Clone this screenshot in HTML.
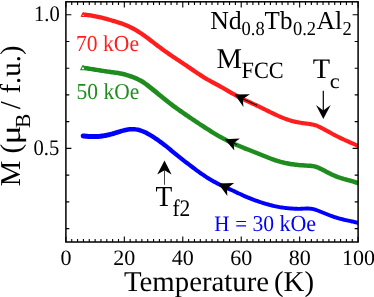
<!DOCTYPE html>
<html><head><meta charset="utf-8"><style>
html,body{margin:0;padding:0;background:#fff;}
svg{display:block;}
text{font-family:"Liberation Serif",serif;fill:#000;text-rendering:geometricPrecision;}
</style></head><body>
<svg width="374" height="297" viewBox="0 0 374 297">
<rect width="374" height="297" fill="#fff"/>
<!-- curves -->
<clipPath id="cp"><rect x="65.9" y="1.8" width="292.2" height="240.2"/></clipPath>
<g clip-path="url(#cp)" stroke="none">
<path d="M84.4,12.5 L85.7,12.6 L87.0,12.8 L88.2,12.9 L89.5,13.1 L90.8,13.3 L92.1,13.5 L93.3,13.7 L94.6,14.0 L95.9,14.2 L97.1,14.5 L98.4,14.8 L99.7,15.0 L100.9,15.3 L102.2,15.6 L103.5,16.0 L104.7,16.3 L106.0,16.6 L107.3,17.0 L108.5,17.3 L109.8,17.7 L111.0,18.0 L112.3,18.4 L113.6,18.8 L114.8,19.1 L116.1,19.5 L117.3,19.9 L118.6,20.3 L119.9,20.7 L121.1,21.1 L122.4,21.6 L123.7,22.0 L125.0,22.5 L126.2,23.0 L127.5,23.5 L128.8,24.1 L130.1,24.7 L131.4,25.3 L132.7,25.9 L134.0,26.6 L135.2,27.3 L136.5,28.0 L137.8,28.8 L139.1,29.6 L140.4,30.4 L141.6,31.2 L142.9,32.1 L144.2,32.9 L145.4,33.8 L146.7,34.7 L148.0,35.7 L149.2,36.6 L150.5,37.5 L151.8,38.5 L153.0,39.5 L154.3,40.4 L155.5,41.4 L156.8,42.4 L158.0,43.3 L159.3,44.3 L160.5,45.2 L161.7,46.1 L163.0,47.1 L164.2,48.0 L165.5,48.9 L166.7,49.7 L167.9,50.6 L169.2,51.5 L170.4,52.3 L171.7,53.2 L172.9,54.0 L174.2,54.9 L175.4,55.7 L176.6,56.6 L177.9,57.4 L179.1,58.2 L180.4,59.1 L181.6,59.9 L182.9,60.7 L184.1,61.5 L185.4,62.4 L186.6,63.2 L187.9,64.1 L189.2,64.9 L190.4,65.7 L191.7,66.6 L192.9,67.5 L194.2,68.3 L195.4,69.2 L196.7,70.0 L197.9,70.9 L199.1,71.7 L200.4,72.5 L201.6,73.3 L202.9,74.1 L204.1,74.9 L205.3,75.7 L206.6,76.5 L207.8,77.2 L209.0,77.9 L210.2,78.6 L211.5,79.3 L212.7,79.9 L214.0,80.6 L215.2,81.3 L216.5,81.9 L217.7,82.6 L219.0,83.3 L220.2,84.0 L221.5,84.7 L222.8,85.4 L224.0,86.1 L225.3,86.9 L226.5,87.6 L227.8,88.3 L229.0,89.1 L230.3,89.8 L231.5,90.5 L232.8,91.2 L234.0,91.9 L235.2,92.6 L236.5,93.3 L237.7,94.0 L238.9,94.6 L240.2,95.3 L241.4,95.9 L242.6,96.5 L243.9,97.2 L245.1,97.8 L246.4,98.4 L247.6,99.0 L248.8,99.5 L250.1,100.1 L251.3,100.7 L252.6,101.3 L253.8,101.9 L255.1,102.5 L256.3,103.0 L257.6,103.6 L258.8,104.2 L260.1,104.8 L261.4,105.4 L262.6,106.0 L263.9,106.7 L265.1,107.3 L266.4,107.9 L267.6,108.5 L268.9,109.1 L270.1,109.7 L271.4,110.4 L272.6,111.0 L273.8,111.6 L275.1,112.1 L276.3,112.7 L277.6,113.3 L278.8,113.9 L280.0,114.4 L281.3,114.9 L282.5,115.4 L283.7,115.9 L284.9,116.4 L286.2,116.9 L287.4,117.3 L288.6,117.8 L289.8,118.2 L291.1,118.6 L292.3,118.9 L293.5,119.2 L294.7,119.6 L295.9,119.8 L297.1,120.1 L298.3,120.3 L299.5,120.6 L300.8,120.8 L302.0,120.9 L303.2,121.1 L304.5,121.3 L305.7,121.4 L307.0,121.6 L308.2,121.8 L309.5,121.9 L310.8,122.1 L312.1,122.4 L313.4,122.6 L314.7,122.9 L316.1,123.3 L317.4,123.8 L318.8,124.4 L320.1,125.0 L321.4,125.6 L322.6,126.2 L323.9,126.9 L325.2,127.6 L326.4,128.3 L327.7,128.9 L328.9,129.6 L330.2,130.3 L331.4,131.0 L332.7,131.7 L333.9,132.4 L335.2,133.0 L336.4,133.7 L337.6,134.3 L338.9,134.9 L340.1,135.6 L341.3,136.1 L342.6,136.7 L343.8,137.3 L345.0,137.9 L346.3,138.4 L347.5,139.0 L348.8,139.5 L350.0,140.1 L351.3,140.7 L352.5,141.2 L353.8,141.8 L355.0,142.3 L356.3,142.9 L357.6,143.5 L358.8,144.1 L359.4,144.3 L357.6,148.1 L357.1,147.8 L355.8,147.2 L354.6,146.6 L353.4,146.1 L352.1,145.5 L350.9,145.0 L349.6,144.4 L348.4,143.9 L347.1,143.3 L345.9,142.7 L344.6,142.2 L343.4,141.6 L342.1,141.0 L340.8,140.4 L339.6,139.9 L338.3,139.2 L337.0,138.6 L335.8,138.0 L334.5,137.3 L333.2,136.7 L332.0,136.0 L330.7,135.3 L329.5,134.6 L328.2,133.9 L327.0,133.2 L325.7,132.5 L324.5,131.9 L323.2,131.2 L322.0,130.5 L320.8,129.9 L319.5,129.3 L318.3,128.7 L317.1,128.1 L316.0,127.6 L314.8,127.2 L313.7,126.9 L312.5,126.6 L311.3,126.4 L310.1,126.2 L308.9,126.0 L307.7,125.8 L306.4,125.7 L305.2,125.5 L303.9,125.3 L302.7,125.2 L301.4,125.0 L300.1,124.8 L298.9,124.6 L297.6,124.4 L296.3,124.1 L295.0,123.9 L293.7,123.6 L292.4,123.2 L291.1,122.9 L289.8,122.5 L288.6,122.1 L287.3,121.7 L286.0,121.2 L284.7,120.8 L283.5,120.3 L282.2,119.8 L280.9,119.3 L279.6,118.7 L278.4,118.2 L277.1,117.6 L275.8,117.1 L274.6,116.5 L273.3,115.9 L272.1,115.3 L270.8,114.7 L269.5,114.1 L268.3,113.5 L267.0,112.9 L265.8,112.2 L264.5,111.6 L263.3,111.0 L262.0,110.4 L260.8,109.8 L259.5,109.2 L258.3,108.6 L257.1,108.0 L255.8,107.4 L254.6,106.8 L253.3,106.3 L252.1,105.7 L250.8,105.1 L249.6,104.5 L248.3,103.9 L247.1,103.3 L245.8,102.8 L244.5,102.2 L243.3,101.6 L242.0,100.9 L240.8,100.3 L239.5,99.7 L238.2,99.0 L237.0,98.4 L235.7,97.7 L234.4,97.0 L233.2,96.3 L231.9,95.6 L230.6,94.9 L229.4,94.2 L228.1,93.4 L226.9,92.7 L225.6,92.0 L224.4,91.3 L223.1,90.5 L221.9,89.8 L220.6,89.1 L219.4,88.4 L218.2,87.7 L216.9,87.1 L215.7,86.4 L214.4,85.7 L213.2,85.0 L211.9,84.4 L210.7,83.7 L209.4,83.0 L208.2,82.3 L206.9,81.6 L205.6,80.9 L204.3,80.1 L203.1,79.4 L201.8,78.6 L200.5,77.8 L199.3,76.9 L198.0,76.1 L196.8,75.3 L195.5,74.4 L194.2,73.6 L193.0,72.7 L191.7,71.9 L190.5,71.0 L189.2,70.2 L188.0,69.3 L186.7,68.5 L185.5,67.6 L184.3,66.8 L183.0,66.0 L181.8,65.1 L180.5,64.3 L179.3,63.5 L178.0,62.6 L176.8,61.8 L175.5,61.0 L174.3,60.1 L173.0,59.3 L171.7,58.5 L170.5,57.6 L169.2,56.7 L168.0,55.9 L166.7,55.0 L165.5,54.1 L164.2,53.2 L162.9,52.3 L161.7,51.4 L160.4,50.5 L159.2,49.6 L157.9,48.6 L156.6,47.7 L155.4,46.7 L154.1,45.8 L152.9,44.8 L151.6,43.8 L150.4,42.9 L149.1,41.9 L147.9,41.0 L146.7,40.0 L145.4,39.1 L144.2,38.2 L143.0,37.3 L141.7,36.5 L140.5,35.6 L139.3,34.8 L138.0,34.0 L136.8,33.2 L135.6,32.5 L134.4,31.7 L133.2,31.0 L131.9,30.4 L130.7,29.8 L129.5,29.2 L128.3,28.6 L127.1,28.0 L125.9,27.5 L124.7,27.0 L123.4,26.5 L122.2,26.1 L121.0,25.6 L119.8,25.2 L118.5,24.8 L117.3,24.4 L116.1,24.0 L114.8,23.6 L113.6,23.2 L112.3,22.9 L111.1,22.5 L109.9,22.1 L108.6,21.8 L107.4,21.4 L106.1,21.1 L104.9,20.8 L103.7,20.4 L102.4,20.1 L101.2,19.8 L100.0,19.5 L98.7,19.2 L97.5,19.0 L96.3,18.7 L95.0,18.4 L93.8,18.2 L92.6,18.0 L91.3,17.8 L90.1,17.5 L88.9,17.4 L87.7,17.2 L86.4,17.0 L85.2,16.9 L84.0,16.7 L83.2,16.5 L82.5,16.0 L82.1,15.2 L82.1,14.4 L82.3,13.6 L82.8,12.9 L83.6,12.5Z" fill="#ff1e1e"/>
<path d="M84.5,65.7 L85.8,65.9 L87.1,66.1 L88.3,66.3 L89.6,66.5 L90.8,66.7 L92.1,66.9 L93.3,67.1 L94.6,67.3 L95.8,67.5 L97.1,67.7 L98.3,67.9 L99.5,68.1 L100.8,68.3 L102.0,68.5 L103.3,68.7 L104.5,68.9 L105.8,69.1 L107.0,69.3 L108.3,69.4 L109.5,69.6 L110.8,69.8 L112.0,69.9 L113.2,70.1 L114.5,70.3 L115.8,70.4 L117.0,70.6 L118.3,70.8 L119.6,71.0 L120.9,71.3 L122.2,71.5 L123.5,71.8 L124.8,72.1 L126.1,72.5 L127.4,72.9 L128.6,73.3 L129.9,73.7 L131.2,74.1 L132.5,74.6 L133.7,75.0 L135.0,75.5 L136.3,76.0 L137.6,76.6 L138.9,77.2 L140.3,77.9 L141.6,78.6 L142.9,79.3 L144.2,80.1 L145.5,81.0 L146.8,81.9 L148.1,82.8 L149.4,83.8 L150.6,84.7 L151.9,85.7 L153.2,86.8 L154.4,87.8 L155.7,88.8 L156.9,89.8 L158.2,90.8 L159.4,91.9 L160.7,92.9 L161.9,93.9 L163.2,95.0 L164.4,96.0 L165.7,97.0 L166.9,98.0 L168.2,99.0 L169.4,100.0 L170.6,100.9 L171.9,101.9 L173.1,102.8 L174.3,103.8 L175.6,104.7 L176.8,105.6 L178.0,106.5 L179.3,107.4 L180.5,108.2 L181.8,109.1 L183.0,110.0 L184.3,110.9 L185.5,111.7 L186.7,112.6 L188.0,113.4 L189.2,114.3 L190.5,115.2 L191.7,116.0 L193.0,116.9 L194.2,117.7 L195.5,118.5 L196.7,119.4 L198.0,120.2 L199.2,121.0 L200.4,121.9 L201.7,122.7 L202.9,123.5 L204.2,124.3 L205.4,125.1 L206.7,125.9 L207.9,126.8 L209.1,127.5 L210.4,128.3 L211.6,129.1 L212.9,129.9 L214.1,130.7 L215.3,131.4 L216.6,132.2 L217.8,132.9 L219.1,133.7 L220.3,134.4 L221.5,135.1 L222.8,135.8 L224.0,136.4 L225.2,137.1 L226.5,137.7 L227.7,138.4 L228.9,139.0 L230.2,139.6 L231.4,140.2 L232.6,140.8 L233.9,141.3 L235.1,141.9 L236.3,142.4 L237.6,143.0 L238.8,143.5 L240.1,144.0 L241.3,144.5 L242.5,145.1 L243.8,145.6 L245.0,146.1 L246.3,146.6 L247.5,147.0 L248.8,147.5 L250.0,148.0 L251.3,148.5 L252.5,149.0 L253.7,149.5 L255.0,150.0 L256.3,150.4 L257.5,150.9 L258.8,151.4 L260.0,151.9 L261.3,152.4 L262.5,152.9 L263.8,153.4 L265.0,153.9 L266.3,154.4 L267.5,154.9 L268.8,155.4 L270.0,155.9 L271.2,156.4 L272.5,156.9 L273.7,157.3 L274.9,157.8 L276.2,158.2 L277.4,158.6 L278.6,159.0 L279.8,159.3 L281.0,159.7 L282.3,160.0 L283.5,160.3 L284.7,160.6 L285.9,160.9 L287.1,161.1 L288.4,161.3 L289.6,161.6 L290.8,161.8 L292.0,162.0 L293.3,162.1 L294.5,162.3 L295.7,162.5 L296.9,162.6 L298.2,162.7 L299.4,162.9 L300.6,163.0 L301.9,163.1 L303.1,163.1 L304.3,163.2 L305.6,163.3 L306.8,163.4 L308.1,163.4 L309.4,163.5 L310.7,163.6 L312.0,163.7 L313.3,163.9 L314.7,164.2 L316.1,164.5 L317.5,165.0 L318.8,165.5 L320.1,166.1 L321.4,166.7 L322.7,167.3 L324.0,168.0 L325.2,168.6 L326.5,169.3 L327.7,169.9 L329.0,170.6 L330.2,171.2 L331.4,171.8 L332.7,172.4 L333.9,173.0 L335.1,173.5 L336.3,174.0 L337.5,174.5 L338.7,175.0 L339.9,175.4 L341.1,175.8 L342.4,176.2 L343.6,176.5 L344.8,176.9 L346.0,177.2 L347.3,177.6 L348.5,177.9 L349.8,178.2 L351.0,178.6 L352.3,178.9 L353.6,179.3 L354.9,179.7 L356.1,180.1 L357.4,180.5 L358.7,181.0 L359.3,181.2 L357.7,185.4 L357.2,185.2 L356.0,184.8 L354.8,184.4 L353.5,184.0 L352.3,183.6 L351.1,183.2 L349.9,182.9 L348.6,182.6 L347.4,182.2 L346.1,181.9 L344.9,181.5 L343.6,181.2 L342.3,180.8 L341.0,180.5 L339.8,180.0 L338.5,179.6 L337.2,179.2 L335.9,178.7 L334.6,178.2 L333.3,177.6 L332.0,177.0 L330.7,176.4 L329.5,175.8 L328.2,175.2 L326.9,174.5 L325.7,173.9 L324.4,173.3 L323.2,172.6 L321.9,172.0 L320.7,171.3 L319.5,170.7 L318.3,170.2 L317.1,169.6 L315.9,169.2 L314.8,168.8 L313.7,168.6 L312.6,168.3 L311.4,168.2 L310.2,168.1 L309.0,168.0 L307.8,167.9 L306.6,167.8 L305.3,167.8 L304.1,167.7 L302.8,167.6 L301.5,167.5 L300.3,167.4 L299.0,167.3 L297.7,167.2 L296.5,167.0 L295.2,166.9 L293.9,166.7 L292.6,166.5 L291.4,166.4 L290.1,166.2 L288.8,165.9 L287.5,165.7 L286.3,165.5 L285.0,165.2 L283.7,164.9 L282.4,164.6 L281.1,164.3 L279.9,164.0 L278.6,163.6 L277.3,163.2 L276.0,162.8 L274.7,162.4 L273.5,161.9 L272.2,161.5 L270.9,161.0 L269.7,160.5 L268.4,160.1 L267.1,159.6 L265.9,159.1 L264.6,158.6 L263.4,158.1 L262.1,157.5 L260.9,157.0 L259.6,156.5 L258.4,156.0 L257.1,155.5 L255.9,155.1 L254.6,154.6 L253.4,154.1 L252.2,153.6 L250.9,153.1 L249.6,152.6 L248.4,152.1 L247.1,151.6 L245.9,151.2 L244.6,150.7 L243.4,150.2 L242.1,149.6 L240.9,149.1 L239.6,148.6 L238.3,148.1 L237.1,147.6 L235.8,147.0 L234.6,146.5 L233.3,145.9 L232.0,145.3 L230.8,144.8 L229.5,144.2 L228.2,143.5 L227.0,142.9 L225.7,142.3 L224.4,141.6 L223.2,141.0 L221.9,140.3 L220.6,139.6 L219.4,138.9 L218.1,138.2 L216.8,137.5 L215.6,136.7 L214.3,136.0 L213.1,135.2 L211.8,134.5 L210.5,133.7 L209.3,132.9 L208.0,132.1 L206.8,131.3 L205.5,130.5 L204.2,129.7 L203.0,128.9 L201.7,128.1 L200.5,127.3 L199.2,126.4 L198.0,125.6 L196.7,124.8 L195.4,124.0 L194.2,123.1 L192.9,122.3 L191.7,121.5 L190.4,120.6 L189.2,119.8 L187.9,118.9 L186.7,118.1 L185.4,117.2 L184.2,116.4 L182.9,115.5 L181.6,114.6 L180.4,113.8 L179.1,112.9 L177.9,112.0 L176.6,111.1 L175.4,110.2 L174.1,109.3 L172.8,108.4 L171.6,107.5 L170.3,106.5 L169.0,105.6 L167.8,104.6 L166.5,103.6 L165.2,102.6 L164.0,101.6 L162.7,100.6 L161.5,99.6 L160.2,98.6 L159.0,97.6 L157.7,96.5 L156.5,95.5 L155.2,94.5 L154.0,93.4 L152.7,92.4 L151.5,91.4 L150.2,90.4 L149.0,89.4 L147.8,88.4 L146.5,87.4 L145.3,86.5 L144.1,85.6 L142.9,84.8 L141.7,84.0 L140.5,83.2 L139.3,82.5 L138.1,81.9 L137.0,81.3 L135.8,80.7 L134.6,80.2 L133.4,79.7 L132.2,79.3 L130.9,78.8 L129.7,78.4 L128.5,78.0 L127.3,77.6 L126.0,77.2 L124.8,76.8 L123.6,76.5 L122.4,76.2 L121.2,75.9 L120.0,75.7 L118.8,75.4 L117.6,75.2 L116.4,75.0 L115.1,74.9 L113.9,74.7 L112.7,74.5 L111.4,74.4 L110.1,74.2 L108.9,74.0 L107.6,73.8 L106.4,73.7 L105.1,73.5 L103.9,73.3 L102.6,73.1 L101.4,72.9 L100.1,72.7 L98.9,72.5 L97.6,72.3 L96.3,72.1 L95.1,71.9 L93.8,71.7 L92.6,71.5 L91.3,71.3 L90.1,71.1 L88.8,70.9 L87.6,70.7 L86.3,70.5 L85.1,70.3 L83.9,70.1 L83.0,69.8 L82.4,69.2 L82.1,68.4 L82.0,67.6 L82.3,66.7 L82.9,66.1 L83.7,65.8Z" fill="#1f8c1f"/>
<path d="M83.5,133.4 L84.8,133.6 L86.0,133.7 L87.2,133.8 L88.4,133.9 L89.6,134.0 L90.8,134.1 L92.0,134.1 L93.2,134.1 L94.4,134.1 L95.6,134.1 L96.8,134.0 L98.0,134.0 L99.2,133.9 L100.4,133.7 L101.6,133.6 L102.8,133.5 L104.0,133.3 L105.2,133.1 L106.5,132.8 L107.7,132.6 L108.9,132.3 L110.1,132.0 L111.3,131.7 L112.5,131.3 L113.8,131.0 L115.0,130.6 L116.2,130.2 L117.5,129.8 L118.8,129.4 L120.1,129.1 L121.3,128.7 L122.6,128.4 L123.9,128.0 L125.2,127.7 L126.5,127.5 L127.9,127.3 L129.2,127.1 L130.5,127.0 L131.9,126.9 L133.3,126.9 L134.6,127.0 L136.0,127.2 L137.3,127.4 L138.7,127.6 L140.1,128.0 L141.4,128.4 L142.7,128.9 L144.1,129.4 L145.4,130.0 L146.7,130.6 L148.0,131.3 L149.3,132.0 L150.6,132.8 L151.8,133.5 L153.1,134.3 L154.4,135.1 L155.7,135.9 L156.9,136.7 L158.2,137.6 L159.5,138.5 L160.7,139.4 L162.0,140.3 L163.3,141.3 L164.5,142.2 L165.8,143.2 L167.1,144.2 L168.3,145.2 L169.6,146.3 L170.8,147.3 L172.1,148.3 L173.3,149.4 L174.6,150.4 L175.8,151.5 L177.1,152.5 L178.3,153.5 L179.5,154.5 L180.8,155.5 L182.0,156.5 L183.3,157.5 L184.5,158.4 L185.7,159.4 L187.0,160.4 L188.2,161.3 L189.5,162.3 L190.7,163.2 L192.0,164.2 L193.2,165.1 L194.4,166.1 L195.7,167.0 L196.9,167.9 L198.2,168.9 L199.4,169.8 L200.6,170.7 L201.9,171.6 L203.1,172.4 L204.4,173.3 L205.6,174.1 L206.8,174.9 L208.0,175.7 L209.3,176.5 L210.5,177.2 L211.7,178.0 L213.0,178.7 L214.2,179.4 L215.4,180.1 L216.7,180.8 L217.9,181.4 L219.1,182.0 L220.3,182.7 L221.6,183.3 L222.8,183.8 L224.0,184.4 L225.3,185.0 L226.5,185.6 L227.8,186.1 L229.0,186.7 L230.3,187.3 L231.5,187.8 L232.8,188.4 L234.0,189.0 L235.3,189.6 L236.5,190.2 L237.8,190.8 L239.0,191.4 L240.3,191.9 L241.5,192.5 L242.8,193.1 L244.0,193.7 L245.3,194.2 L246.5,194.8 L247.7,195.3 L249.0,195.8 L250.2,196.3 L251.4,196.8 L252.7,197.3 L253.9,197.8 L255.1,198.2 L256.4,198.7 L257.6,199.1 L258.8,199.5 L260.1,200.0 L261.3,200.4 L262.5,200.8 L263.8,201.2 L265.0,201.5 L266.3,201.9 L267.5,202.3 L268.7,202.6 L270.0,203.0 L271.2,203.3 L272.4,203.6 L273.7,203.9 L274.9,204.2 L276.1,204.5 L277.3,204.7 L278.6,205.0 L279.8,205.2 L281.0,205.4 L282.2,205.6 L283.5,205.7 L284.7,205.9 L285.9,206.0 L287.2,206.2 L288.4,206.3 L289.6,206.4 L290.9,206.5 L292.1,206.6 L293.3,206.7 L294.5,206.8 L295.8,206.8 L297.0,206.8 L298.2,206.9 L299.4,206.9 L300.6,206.8 L301.9,206.8 L303.1,206.7 L304.4,206.7 L305.6,206.6 L306.9,206.6 L308.2,206.6 L309.6,206.7 L310.9,206.8 L312.3,207.0 L313.6,207.2 L315.0,207.6 L316.3,208.0 L317.6,208.4 L318.9,208.9 L320.2,209.4 L321.4,209.9 L322.7,210.4 L323.9,210.9 L325.2,211.4 L326.4,211.9 L327.7,212.4 L328.9,212.9 L330.2,213.4 L331.4,213.9 L332.6,214.3 L333.8,214.8 L335.1,215.2 L336.3,215.6 L337.5,216.0 L338.7,216.3 L340.0,216.7 L341.2,217.0 L342.4,217.3 L343.7,217.6 L344.9,217.9 L346.1,218.2 L347.4,218.5 L348.6,218.8 L349.9,219.0 L351.1,219.3 L352.4,219.6 L353.6,219.8 L354.9,220.1 L356.1,220.4 L357.4,220.6 L358.6,220.9 L358.9,221.0 L358.1,224.8 L357.8,224.7 L356.5,224.4 L355.3,224.2 L354.0,223.9 L352.8,223.6 L351.5,223.4 L350.3,223.1 L349.0,222.8 L347.8,222.6 L346.5,222.3 L345.3,222.0 L344.0,221.7 L342.7,221.4 L341.5,221.1 L340.2,220.8 L338.9,220.4 L337.7,220.1 L336.4,219.7 L335.1,219.3 L333.8,218.9 L332.6,218.4 L331.3,218.0 L330.0,217.5 L328.7,217.0 L327.5,216.5 L326.2,216.0 L325.0,215.5 L323.7,215.0 L322.5,214.5 L321.2,214.0 L320.0,213.5 L318.7,213.0 L317.5,212.5 L316.3,212.1 L315.1,211.7 L313.9,211.3 L312.8,211.0 L311.6,210.8 L310.5,210.7 L309.3,210.6 L308.2,210.5 L307.0,210.5 L305.8,210.5 L304.5,210.6 L303.3,210.6 L302.0,210.7 L300.8,210.7 L299.5,210.8 L298.2,210.8 L296.9,210.7 L295.6,210.7 L294.4,210.7 L293.1,210.6 L291.8,210.5 L290.5,210.4 L289.3,210.3 L288.0,210.2 L286.7,210.1 L285.5,209.9 L284.2,209.8 L282.9,209.6 L281.7,209.4 L280.4,209.2 L279.1,209.0 L277.8,208.8 L276.6,208.6 L275.3,208.3 L274.0,208.0 L272.7,207.7 L271.5,207.4 L270.2,207.1 L268.9,206.7 L267.7,206.4 L266.4,206.0 L265.1,205.7 L263.9,205.3 L262.6,204.9 L261.4,204.5 L260.1,204.1 L258.8,203.7 L257.6,203.3 L256.3,202.8 L255.0,202.4 L253.8,201.9 L252.5,201.5 L251.2,201.0 L250.0,200.5 L248.7,200.0 L247.4,199.5 L246.2,199.0 L244.9,198.4 L243.6,197.9 L242.4,197.3 L241.1,196.7 L239.9,196.1 L238.6,195.6 L237.4,195.0 L236.1,194.4 L234.9,193.8 L233.6,193.2 L232.4,192.6 L231.1,192.1 L229.9,191.5 L228.6,190.9 L227.4,190.4 L226.1,189.8 L224.9,189.2 L223.6,188.7 L222.4,188.1 L221.1,187.5 L219.8,186.9 L218.6,186.3 L217.3,185.7 L216.0,185.0 L214.7,184.3 L213.5,183.7 L212.2,183.0 L210.9,182.2 L209.7,181.5 L208.4,180.7 L207.1,179.9 L205.9,179.2 L204.6,178.3 L203.3,177.5 L202.0,176.6 L200.8,175.8 L199.5,174.9 L198.3,174.0 L197.0,173.1 L195.7,172.2 L194.5,171.3 L193.2,170.3 L192.0,169.4 L190.7,168.5 L189.4,167.5 L188.2,166.6 L186.9,165.6 L185.7,164.7 L184.4,163.7 L183.2,162.8 L181.9,161.8 L180.6,160.8 L179.4,159.8 L178.1,158.8 L176.9,157.8 L175.6,156.8 L174.3,155.8 L173.1,154.8 L171.8,153.7 L170.6,152.7 L169.3,151.7 L168.1,150.6 L166.8,149.6 L165.6,148.6 L164.3,147.6 L163.1,146.7 L161.9,145.7 L160.6,144.8 L159.4,143.9 L158.2,143.0 L156.9,142.1 L155.7,141.2 L154.5,140.4 L153.2,139.6 L152.0,138.8 L150.8,138.1 L149.6,137.3 L148.3,136.6 L147.1,135.9 L145.9,135.3 L144.7,134.6 L143.5,134.1 L142.3,133.5 L141.2,133.1 L140.0,132.7 L138.8,132.3 L137.7,132.0 L136.6,131.8 L135.4,131.6 L134.3,131.5 L133.1,131.5 L132.0,131.5 L130.9,131.5 L129.7,131.6 L128.5,131.8 L127.4,132.0 L126.2,132.2 L125.0,132.5 L123.8,132.8 L122.6,133.1 L121.3,133.5 L120.1,133.9 L118.9,134.2 L117.7,134.7 L116.4,135.1 L115.1,135.5 L113.9,135.9 L112.6,136.3 L111.3,136.6 L110.0,137.0 L108.7,137.3 L107.4,137.6 L106.2,137.9 L104.9,138.1 L103.6,138.3 L102.3,138.5 L101.0,138.7 L99.7,138.8 L98.4,138.9 L97.1,139.0 L95.8,139.1 L94.5,139.1 L93.2,139.1 L91.9,139.1 L90.6,139.1 L89.3,139.0 L88.0,138.9 L86.7,138.8 L85.4,138.7 L84.1,138.5 L82.9,138.4 L81.9,138.1 L81.2,137.4 L80.8,136.5 L80.7,135.6 L81.0,134.6 L81.7,133.9 L82.6,133.5Z" fill="#0000ff"/>
</g>
<!-- start markers -->
<path d="M83.2,12.8 L81.3,16.3 L85.1,16.3 Z" fill="#fff" stroke="#ff1e1e" stroke-width="1.3" stroke-linejoin="round"/>
<path d="M83,65.4 L80.7,69.7 L85.3,69.7 Z" fill="#fff" stroke="#1f8c1f" stroke-width="1.1" stroke-linejoin="round"/>
<!-- frame -->
<rect x="65.9" y="1.8" width="292.20000000000005" height="240.2" fill="none" stroke="#000" stroke-width="1.5"/>
<path d="M65.90,242.0v-5.6M65.90,1.8v5.6M71.74,242.0v-3.1M71.74,1.8v3.1M77.59,242.0v-3.1M77.59,1.8v3.1M83.43,242.0v-3.1M83.43,1.8v3.1M89.28,242.0v-3.1M89.28,1.8v3.1M95.12,242.0v-3.1M95.12,1.8v3.1M100.96,242.0v-3.1M100.96,1.8v3.1M106.81,242.0v-3.1M106.81,1.8v3.1M112.65,242.0v-3.1M112.65,1.8v3.1M118.50,242.0v-3.1M118.50,1.8v3.1M124.34,242.0v-5.6M124.34,1.8v5.6M130.18,242.0v-3.1M130.18,1.8v3.1M136.03,242.0v-3.1M136.03,1.8v3.1M141.87,242.0v-3.1M141.87,1.8v3.1M147.72,242.0v-3.1M147.72,1.8v3.1M153.56,242.0v-3.1M153.56,1.8v3.1M159.40,242.0v-3.1M159.40,1.8v3.1M165.25,242.0v-3.1M165.25,1.8v3.1M171.09,242.0v-3.1M171.09,1.8v3.1M176.94,242.0v-3.1M176.94,1.8v3.1M182.78,242.0v-5.6M182.78,1.8v5.6M188.62,242.0v-3.1M188.62,1.8v3.1M194.47,242.0v-3.1M194.47,1.8v3.1M200.31,242.0v-3.1M200.31,1.8v3.1M206.16,242.0v-3.1M206.16,1.8v3.1M212.00,242.0v-3.1M212.00,1.8v3.1M217.84,242.0v-3.1M217.84,1.8v3.1M223.69,242.0v-3.1M223.69,1.8v3.1M229.53,242.0v-3.1M229.53,1.8v3.1M235.38,242.0v-3.1M235.38,1.8v3.1M241.22,242.0v-5.6M241.22,1.8v5.6M247.06,242.0v-3.1M247.06,1.8v3.1M252.91,242.0v-3.1M252.91,1.8v3.1M258.75,242.0v-3.1M258.75,1.8v3.1M264.60,242.0v-3.1M264.60,1.8v3.1M270.44,242.0v-3.1M270.44,1.8v3.1M276.28,242.0v-3.1M276.28,1.8v3.1M282.13,242.0v-3.1M282.13,1.8v3.1M287.97,242.0v-3.1M287.97,1.8v3.1M293.82,242.0v-3.1M293.82,1.8v3.1M299.66,242.0v-5.6M299.66,1.8v5.6M305.50,242.0v-3.1M305.50,1.8v3.1M311.35,242.0v-3.1M311.35,1.8v3.1M317.19,242.0v-3.1M317.19,1.8v3.1M323.04,242.0v-3.1M323.04,1.8v3.1M328.88,242.0v-3.1M328.88,1.8v3.1M334.72,242.0v-3.1M334.72,1.8v3.1M340.57,242.0v-3.1M340.57,1.8v3.1M346.41,242.0v-3.1M346.41,1.8v3.1M352.26,242.0v-3.1M352.26,1.8v3.1M358.10,242.0v-5.6M358.10,1.8v5.6M65.9,14.70h5.5M358.1,14.70h-5.5M65.9,41.44h3.4M358.1,41.44h-3.4M65.9,68.18h3.4M358.1,68.18h-3.4M65.9,94.92h3.4M358.1,94.92h-3.4M65.9,121.66h3.4M358.1,121.66h-3.4M65.9,148.40h5.5M358.1,148.40h-5.5M65.9,175.14h3.4M358.1,175.14h-3.4M65.9,201.88h3.4M358.1,201.88h-3.4M65.9,228.62h3.4M358.1,228.62h-3.4" stroke="#000" stroke-width="1.1" fill="none"/>
<!-- arrows on curves -->
<g fill="#000" stroke="none">
<path d="M234.8,94.6 L249.9,94.2 L242.9,98.9 L243.4,107.0 Z"/>
<path d="M224.8,139.2 L239.9,138.5 L233.6,143.2 L234.3,150.6 Z"/>
<path d="M218.3,183.6 L234.2,183.0 L227.0,188.6 L227.3,196.0 Z"/>
<path d="M323.3,119.0 L316.0,105.1 L323.3,110.6 L330.7,105.1 Z"/>
<path d="M164.5,160.6 L157.2,174.5 L164.5,170.2 L171.6,174.5 Z"/>
</g>
<g stroke="#000" stroke-width="1" fill="none">
<path d="M242.9,98.9 L257,105.3"/>
<path d="M233.6,143.2 L237,144.6"/>
<path d="M227,188.6 L232.6,190.3"/>
<path d="M323.3,90.7 V111" stroke-width="1.2"/>
<path d="M164.5,170 V184.8" stroke="#444"/>
</g>
<g style="mix-blend-mode:multiply">
<!-- tick labels -->
<g font-size="22">
<text x="65.9" y="265" text-anchor="middle">0</text>
<text x="124.3" y="265" text-anchor="middle">20</text>
<text x="182.8" y="265" text-anchor="middle">40</text>
<text x="241.2" y="265" text-anchor="middle">60</text>
<text x="299.7" y="265" text-anchor="middle">80</text>
<text x="358.4" y="265" text-anchor="middle">100</text>
<text transform="translate(59.7 21.1) scale(1 1.08)" font-size="20.6" text-anchor="end">1.0</text>
<text transform="translate(59.3 155.0) scale(1 1.08)" font-size="20.6" text-anchor="end">0.5</text>
</g>
<!-- axis titles -->
<text x="124.0" y="290.5" font-size="28.8">Temperature</text><text x="274.0" y="290.5" font-size="28.8">(K)</text>
<g transform="translate(20.2,185.6) rotate(-90)" font-size="28.8">
<text x="-0.6" y="0">M (</text>
<text transform="translate(41.2,0) scale(1.25,1)">μ</text>
<text x="57.6" y="9.6" font-size="21.5">B</text>
<text x="76.4" y="0">/</text>
<text x="92.1" y="0">f.u.)</text>
</g>
<!-- annotations -->
<text transform="translate(76.0 51.2) scale(1 1.06)" font-size="21.6" style="fill:#ff1e1e">70 kOe</text>
<text transform="translate(76.5 99.1) scale(1 1.06)" font-size="21.5" style="fill:#1f8c1f">50 kOe</text>
<text transform="translate(214.3 231.0) scale(1 1.05)" font-size="21" style="fill:#0000ff">H<tspan dx="0.6"> = </tspan><tspan font-size="21.6">30 </tspan><tspan font-size="22.0">kOe</tspan></text>
<text x="210.2" y="28.7" font-size="25.8">Nd</text><text transform="translate(241.6 34.9) scale(1 1.07)" font-size="18.5">0.8</text><text transform="translate(264.6 28.7) scale(0.97 1)" font-size="25.8">Tb</text><text transform="translate(292.9 34.9) scale(1 1.07)" font-size="18.5">0.2</text><text x="316.4" y="28.7" font-size="25.8">Al</text><text transform="translate(342.4 34.9) scale(1 1.07)" font-size="18.5">2</text>
<text x="216.4" y="67.8" font-size="28.6">M</text><text transform="translate(241.5 78.0) scale(1 1.05)" font-size="22.3">FCC</text>
<text x="312.8" y="78.0" font-size="28.4">T</text><text transform="translate(329.8 87.6) scale(1.1 1)" font-size="20.5">c</text>
<text transform="translate(155.6 206.3) scale(1 1.06)" font-size="27.5">T</text><text transform="translate(172.4 216.3) scale(1 1.1)" font-size="21.5">f2</text>
</g>
</svg>
</body></html>
